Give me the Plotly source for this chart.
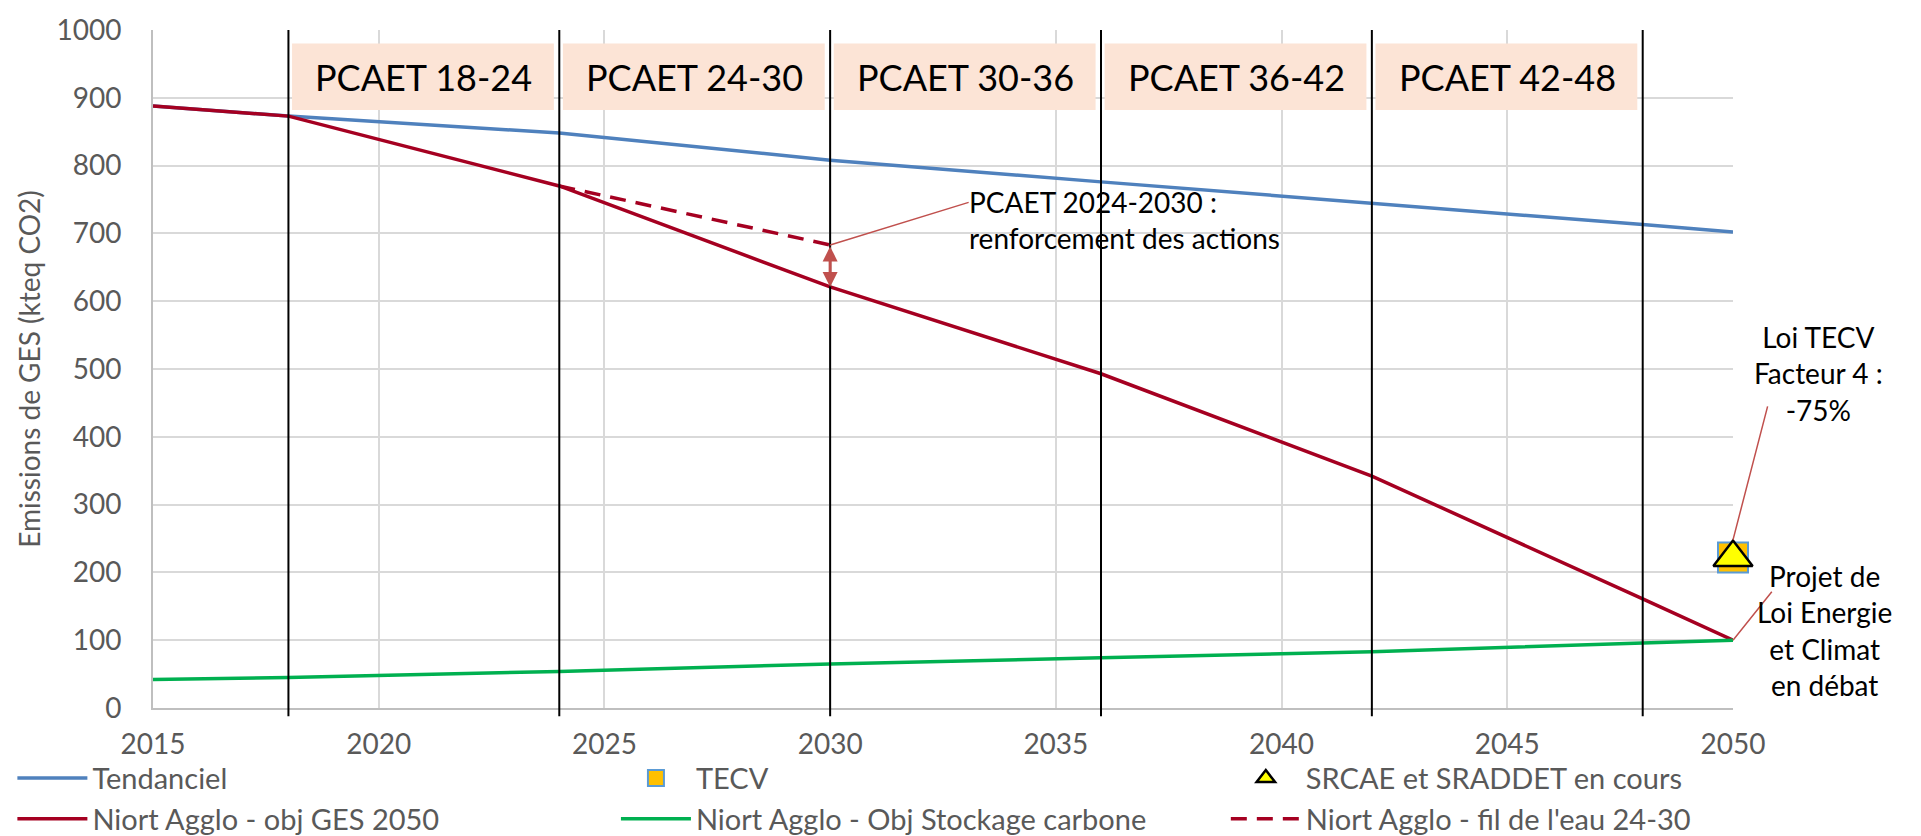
import plotly.graph_objects as go

# Series values
years = [2015, 2018, 2024, 2030, 2036, 2042, 2048, 2050]
tendanciel = [888, 873, 848, 808, 776, 745, 713, 702]
obj_ges_2050 = [888, 873, 770, 621, 493, 342, 161, 100]
stockage_carbone = [42, 45, 54, 65, 74, 83, 96, 100]

fil_eau_years = [2024, 2030]
fil_eau = [770, 683]

tecv_years = [2050]
tecv = [222]
srcae_years = [2050]
srcae = [222]

# PCAET periods
pcaet_labels = ["PCAET 18-24", "PCAET 24-30", "PCAET 30-36", "PCAET 36-42", "PCAET 42-48"]
pcaet_starts = [2018, 2024, 2030, 2036, 2042]
pcaet_ends = [2024, 2030, 2036, 2042, 2048]
period_bounds = [2018, 2024, 2030, 2036, 2042, 2048]

FONT = "Lato, 'Open Sans', sans-serif"
GREY = "#595959"
BLUE = "#4F81BD"
RED = "#A50021"
GREEN = "#00B050"
ARROW = "#C0504D"

fig = go.Figure()

fig.add_trace(go.Scatter(x=years, y=tendanciel, mode="lines", name="Tendanciel",
                         line=dict(color=BLUE, width=3.5), legend="legend"))
fig.add_trace(go.Scatter(x=years, y=obj_ges_2050, mode="lines", name="Niort Agglo - obj GES 2050",
                         line=dict(color=RED, width=3.5), legend="legend"))
fig.add_trace(go.Scatter(x=tecv_years, y=tecv, mode="markers", name="TECV", cliponaxis=False,
                         marker=dict(symbol="square", size=30, color="#FFC000",
                                     line=dict(color="#5B9BD5", width=2)), legend="legend2"))
fig.add_trace(go.Scatter(x=years, y=stockage_carbone, mode="lines", name="Niort Agglo - Obj Stockage carbone",
                         line=dict(color=GREEN, width=3.5), legend="legend2"))
fig.add_trace(go.Scatter(x=fil_eau_years, y=fil_eau, mode="lines", name="Niort Agglo - fil de l'eau 24-30",
                         line=dict(color=RED, width=3.5, dash="16px,10px"), legend="legend3",
                         legendrank=2))
fig.add_trace(go.Scatter(x=srcae_years, y=srcae, mode="markers", name="SRCAE et SRADDET en cours",
                         cliponaxis=False,
                         marker=dict(symbol="triangle-up", size=34, color="#FFFF00",
                                     line=dict(color="black", width=2.5)), legend="legend3",
                         legendrank=1))

shapes = []
# PCAET period boxes
for s, e in zip(pcaet_starts, pcaet_ends):
    shapes.append(dict(type="rect", xref="x", yref="y", x0=s + 0.08, x1=e - 0.12, y0=882, y1=980,
                       fillcolor="#FCE4D6", line=dict(width=0), layer="above"))
# vertical period separators
for b in period_bounds:
    shapes.append(dict(type="line", xref="x", yref="paper", x0=b, x1=b, y0=-0.012, y1=1,
                       line=dict(color="black", width=2), layer="above"))

annotations = []
for label, s, e in zip(pcaet_labels, pcaet_starts, pcaet_ends):
    annotations.append(dict(x=(s + e) / 2, y=931, xref="x", yref="y", text=label, showarrow=False,
                            font=dict(size=36, color="black", family=FONT)))

# PCAET 2024-2030 callout
annotations.append(dict(x=fil_eau_years[1], y=fil_eau[1], xref="x", yref="y", text="",
                        showarrow=True, arrowhead=0, arrowwidth=1.5, arrowcolor=ARROW,
                        ax=140, ay=-43))
annotations.append(dict(x=fil_eau_years[1], y=obj_ges_2050[3], xref="x", yref="y",
                        ax=fil_eau_years[1], ay=fil_eau[1], axref="x", ayref="y", text="",
                        showarrow=True, arrowhead=2, arrowside="end+start", arrowsize=1,
                        arrowwidth=3, arrowcolor=ARROW))
annotations.append(dict(x=2033.03, y=720, xref="x", yref="y", xanchor="left", yanchor="middle",
                        text="PCAET 2024-2030 :<br>renforcement des actions", showarrow=False,
                        align="left", font=dict(size=28, color="black", family=FONT)))

# Loi TECV callout
annotations.append(dict(x=tecv_years[0], y=248, xref="x", yref="y", text="", showarrow=True,
                        arrowhead=0, arrowwidth=1.5, arrowcolor=ARROW, ax=35, ay=-135))
annotations.append(dict(x=1.054, y=493, xref="paper", yref="y", xanchor="center", yanchor="middle",
                        text="Loi TECV<br>Facteur 4 :<br>-75%",
                        showarrow=False, align="center", font=dict(size=28, color="black", family=FONT)))

# Projet de Loi Energie et Climat callout
annotations.append(dict(x=years[-1], y=obj_ges_2050[-1], xref="x", yref="y", text="", showarrow=True,
                        arrowhead=0, arrowwidth=1.5, arrowcolor=ARROW, ax=40, ay=-50))
annotations.append(dict(x=1.058, y=115, xref="paper", yref="y", xanchor="center", yanchor="middle",
                        text="Projet de<br>Loi Energie<br>et Climat<br>en débat",
                        showarrow=False, align="center", font=dict(size=28, color="black", family=FONT)))

legend_style = dict(orientation="v", yanchor="top", y=-0.066, xanchor="left", itemwidth=70,
                    font=dict(size=29, color=GREY), bgcolor="rgba(0,0,0,0)", tracegroupgap=0)

fig.update_layout(
    width=1921,
    height=836,
    margin=dict(l=145, r=196, t=22, b=136, autoexpand=False),
    paper_bgcolor="white",
    plot_bgcolor="white",
    font=dict(family=FONT, size=28, color=GREY),
    showlegend=True,
    xaxis=dict(range=[2015, 2050], tick0=2015, dtick=5, showgrid=True, gridcolor="#D9D9D9",
               gridwidth=1.5, showline=True, linecolor="#BFBFBF", linewidth=2, zeroline=False,
               ticks="", ticklabelstandoff=10),
    yaxis=dict(range=[0, 1000], dtick=100, showgrid=True, gridcolor="#D9D9D9", gridwidth=1.5,
               showline=True, linecolor="#BFBFBF", linewidth=2, zeroline=False, ticks="",
               ticklabelstandoff=24,
               title=dict(text="Emissions de GES (kteq CO2)", standoff=8,
                          font=dict(size=28, color=GREY))),
    legend=dict(legend_style, x=-0.089),
    legend2=dict(legend_style, x=0.293),
    legend3=dict(legend_style, x=0.679),
    shapes=shapes,
    annotations=annotations,
)

fig.write_html("out.html")
